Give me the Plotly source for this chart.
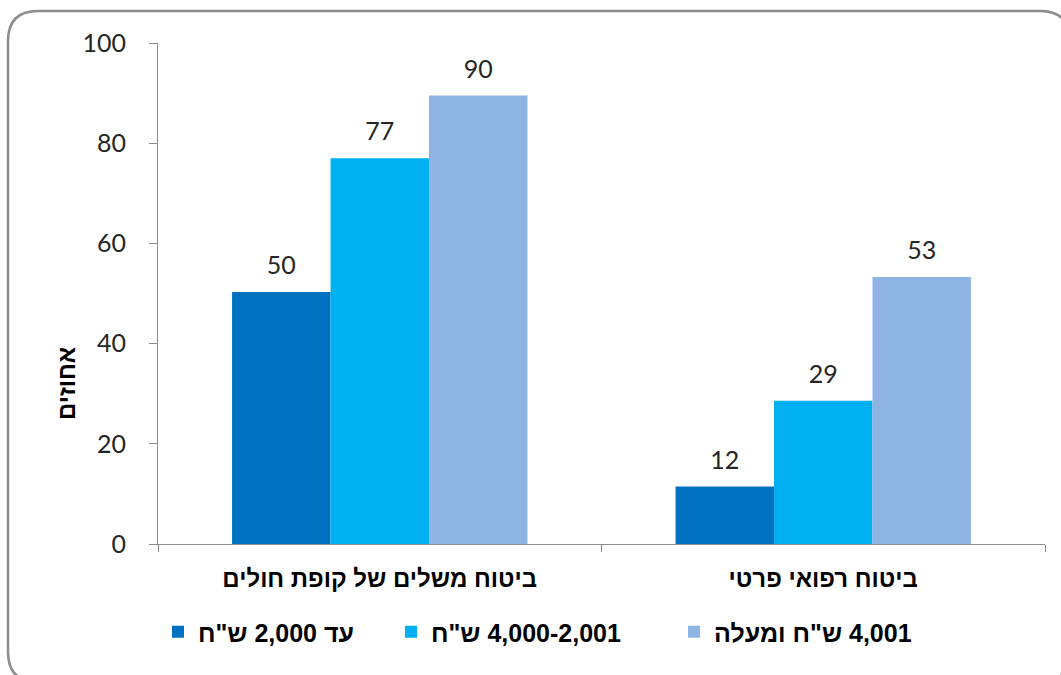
import plotly.graph_objects as go

categories = ["ביטוח משלים של קופת חולים", "ביטוח רפואי פרטי"]
series_names = [
    "\u202bעד 2,000 ש\"ח\u202c",
    "\u202b4,000-2,001 ש\"ח\u202c",
    "\u202b4,001 ש\"ח ומעלה\u202c",
]
values_low = [50.3, 11.5]
values_mid = [77.0, 28.6]
values_high = [89.5, 53.3]
labels_low = ["50", "12"]
labels_mid = ["77", "29"]
labels_high = ["90", "53"]
y_ticks = [0, 20, 40, 60, 80, 100]
y_title = "אחוזים"

colors = ["#0070C0", "#00B0F0", "#8EB4E3"]

W, H = 1061, 675
L, R, T, B = 158, 16, 43, 131
PW, PH = W - L - R, H - T - B

NUM_FONT = "Lato, Open Sans, sans-serif"
HEB_FONT = "Liberation Sans, Arial, sans-serif"


def px2x(px):
    return (px - L) / PW


def px2y(py):
    return (H - B - py) / PH


fig = go.Figure()
series = [(values_low, labels_low), (values_mid, labels_mid), (values_high, labels_high)]
legend_ids = ["legend", "legend2", "legend3"]
for i, ((vals, labs), name) in enumerate(zip(series, series_names)):
    fig.add_trace(go.Bar(
        x=categories, y=vals, name=f"<b>{name}</b>",
        marker=dict(color=colors[i], line=dict(width=0)),
        offsetgroup=str(i), legend=legend_ids[i],
        hoverinfo="skip",
    ))
    fig.add_trace(go.Scatter(
        x=categories, y=vals, text=labs, mode="markers+text",
        textposition="top center",
        marker=dict(size=17, color="rgba(0,0,0,0)"),
        textfont=dict(family=NUM_FONT, size=25, color="#262626"),
        offsetgroup=str(i), showlegend=False, cliponaxis=False, hoverinfo="skip",
    ))

# rounded border
x0, y0, x1, y1, r = 8, 11, 1070, 682, 30
X = lambda p: px2x(p)
Y = lambda p: px2y(p)
path = (
    f"M {X(x0 + r)},{Y(y0)} L {X(x1 - r)},{Y(y0)} "
    f"Q {X(x1)},{Y(y0)} {X(x1)},{Y(y0 + r)} "
    f"L {X(x1)},{Y(y1 - r)} Q {X(x1)},{Y(y1)} {X(x1 - r)},{Y(y1)} "
    f"L {X(x0 + r)},{Y(y1)} Q {X(x0)},{Y(y1)} {X(x0)},{Y(y1 - r)} "
    f"L {X(x0)},{Y(y0 + r)} Q {X(x0)},{Y(y0)} {X(x0 + r)},{Y(y0)} Z"
)
fig.add_shape(type="path", xref="paper", yref="paper", path=path,
              line=dict(color="#8C8C8C", width=2.5), layer="below")

fig.add_annotation(xref="paper", yref="paper", x=px2x(66), y=px2y(384),
                   xanchor="center", yanchor="middle",
                   text=f"<b>{y_title}</b>", textangle=-90, showarrow=False,
                   font=dict(family=HEB_FONT, size=24, color="#000000"))

legend_common = dict(orientation="h", yanchor="middle", xanchor="left",
                     bgcolor="rgba(0,0,0,0)", borderwidth=0,
                     font=dict(family=HEB_FONT, size=25, color="#000000"),
                     itemwidth=30)
lx = [158, 391, 674]
ly = px2y(632)

fig.update_layout(
    width=W, height=H,
    margin=dict(l=L, r=R, t=T, b=B),
    paper_bgcolor="white", plot_bgcolor="white",
    barmode="group", bargap=0.334, bargroupgap=0,
    scattermode="group", scattergap=0.334,
    showlegend=True,
    legend=dict(x=px2x(lx[0]), y=ly, **legend_common),
    legend2=dict(x=px2x(lx[1]), y=ly, **legend_common),
    legend3=dict(x=px2x(lx[2]), y=ly, **legend_common),
    xaxis=dict(
        showline=True, linecolor="#8C8C8C", linewidth=1,
        ticks="outside", tickson="boundaries", ticklen=7, tickcolor="#8C8C8C",
        showgrid=False, ticklabelstandoff=13,
        tickfont=dict(family=HEB_FONT, size=24, color="#000000"),
        tickprefix="<b>", ticksuffix="</b>",
    ),
    yaxis=dict(
        range=[0, 100], tickvals=y_ticks, showline=True, linecolor="#8C8C8C", linewidth=1,
        ticks="outside", ticklen=8, tickcolor="#8C8C8C", showgrid=False, zeroline=False,
        ticklabelstandoff=18,
        tickfont=dict(family=NUM_FONT, size=25, color="#262626"),
    ),
)

fig.write_html("out.html", config={"displayModeBar": False},
               post_script="document.body.style.margin='0';document.body.style.overflow='hidden';")
